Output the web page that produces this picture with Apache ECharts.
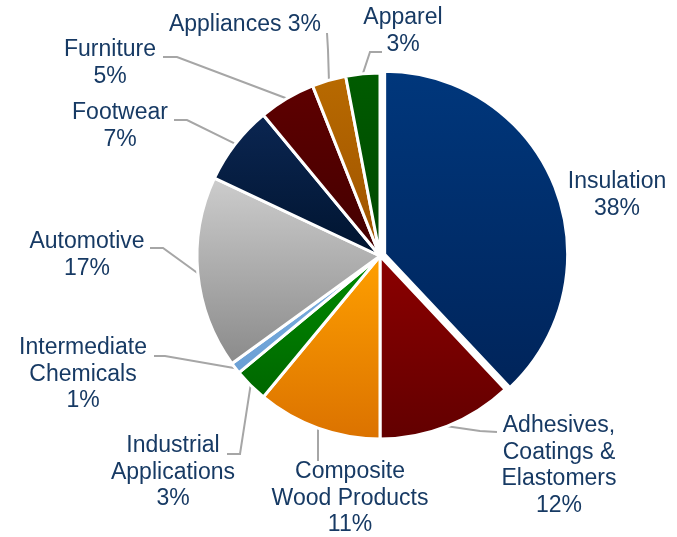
<!DOCTYPE html>
<html>
<head>
<meta charset="utf-8">
<script src="https://cdn.jsdelivr.net/npm/echarts@6/dist/echarts.min.js"></script>
<style>
  html, body { margin: 0; padding: 0; background: #fff; }
  #chart { width: 677px; height: 537px; }
</style>
</head>
<body>
<div id="chart"></div>
<script>
// End-use segments, clockwise from 12 o'clock
const categories = [
  'Insulation',
  'Adhesives,\nCoatings &\nElastomers',
  'Composite\nWood Products',
  'Industrial\nApplications',
  'Intermediate\nChemicals',
  'Automotive',
  'Footwear',
  'Furniture',
  'Appliances',
  'Apparel'
];
const shares = [38, 12, 11, 3, 1, 17, 7, 5, 3, 3];

// Slice fills: vertical gradient from top colour to bottom colour
const fillTop    = ['#00377c', '#8c0000', '#ffa000', '#008c00', '#7db0e2', '#cdcdcd', '#0b2652', '#5e0000', '#b86a00', '#005c00'];
const fillBottom = ['#00245a', '#620000', '#db7200', '#006600', '#6a9fd4', '#8a8a8a', '#00142f', '#430000', '#9e5200', '#004600'];

// Label placement: centre x, centre y of first text line, leader bend and end
const labelSpots = [
  { x: 617, y: 182, leader: null },
  { x: 559, y: 426, leader: [[480, 431], [497, 432]] },
  { x: 350, y: 472, leader: [[318, 445], [318, 461]] },
  { x: 173, y: 446, leader: [[240, 454], [227, 454]] },
  { x: 83,  y: 348, leader: [[165, 356], [154, 356]] },
  { x: 87,  y: 242, leader: [[163, 248], [150, 248]] },
  { x: 120, y: 113, leader: [[187, 120], [174, 120]] },
  { x: 110, y: 50,  leader: [[177, 57], [163, 57]] },
  { x: 245, y: 25,  leader: [[328, 50], [327, 33]] },
  { x: 403, y: 18,  leader: [[370, 52], [382, 52]] }
];
const valueOnSameLine = [false, false, false, false, false, false, false, false, true, false];

// The first segment is pulled out of the pie
const explodedIndex = 0;
const explodeDistance = 5;

const PIE_CENTER = [380, 256];
const PIE_RADIUS = 183;
const LINE_H = 26.5;

const total = shares.reduce((a, b) => a + b, 0);
const before = shares.slice(0, explodedIndex).reduce((a, b) => a + b, 0);
const midAngle = (before + shares[explodedIndex] / 2) / total * 2 * Math.PI; // clockwise from top
const explodedCenter = [
  PIE_CENTER[0] + explodeDistance * Math.sin(midAngle),
  PIE_CENTER[1] - explodeDistance * Math.cos(midAngle)
];

const fill = i => ({
  type: 'linear', x: 0, y: 0, x2: 0, y2: 1,
  colorStops: [
    { offset: 0, color: fillTop[i] },
    { offset: 1, color: fillBottom[i] }
  ]
});

const hiddenSlice = { color: 'rgba(0,0,0,0)', borderWidth: 0 };

// Main pie: every segment except the exploded one
const mainData = categories.map((name, i) => ({
  name: name,
  value: shares[i],
  itemStyle: i === explodedIndex ? hiddenSlice : { color: fill(i) },
  label: { show: i !== explodedIndex },
  labelLine: { show: i !== explodedIndex && !!labelSpots[i].leader }
}));

// Second pie, shifted outward: only the exploded segment is painted
const explodedData = categories.map((name, i) => ({
  name: name,
  value: shares[i],
  itemStyle: i === explodedIndex ? { color: fill(i) } : hiddenSlice,
  label: { show: i === explodedIndex },
  labelLine: { show: false }
}));

const labelStyle = {
  show: true,
  position: 'outside',
  color: '#173a64',
  fontFamily: '"Liberation Sans", Arial, sans-serif',
  fontSize: 23,
  lineHeight: LINE_H,
  align: 'center',
  formatter: p => p.name + (valueOnSameLine[p.dataIndex] ? ' ' : '\n') + p.value + '%'
};

const placeLabel = params => {
  const spot = labelSpots[params.dataIndex];
  const out = {
    x: spot.x,
    y: spot.y - LINE_H / 2,
    align: 'center',
    verticalAlign: 'top'
  };
  if (spot.leader && params.labelLinePoints) {
    out.labelLinePoints = [params.labelLinePoints[0]].concat(spot.leader);
  }
  return out;
};

const basePie = {
  type: 'pie',
  radius: PIE_RADIUS,
  startAngle: 90,
  clockwise: true,
  avoidLabelOverlap: false,
  itemStyle: { borderColor: '#ffffff', borderWidth: 3 },
  label: labelStyle,
  labelLine: {
    show: true,
    smooth: false,
    lineStyle: { color: '#a6a6a6', width: 2 }
  },
  labelLayout: placeLabel,
  emphasis: { disabled: true },
  silent: true
};

const chart = echarts.init(document.getElementById('chart'), null, { renderer: 'canvas' });
chart.setOption({
  animation: false,
  backgroundColor: '#ffffff',
  series: [
    Object.assign({}, basePie, { center: PIE_CENTER, data: mainData }),
    Object.assign({}, basePie, { center: explodedCenter, data: explodedData })
  ]
});
</script>
</body>
</html>
